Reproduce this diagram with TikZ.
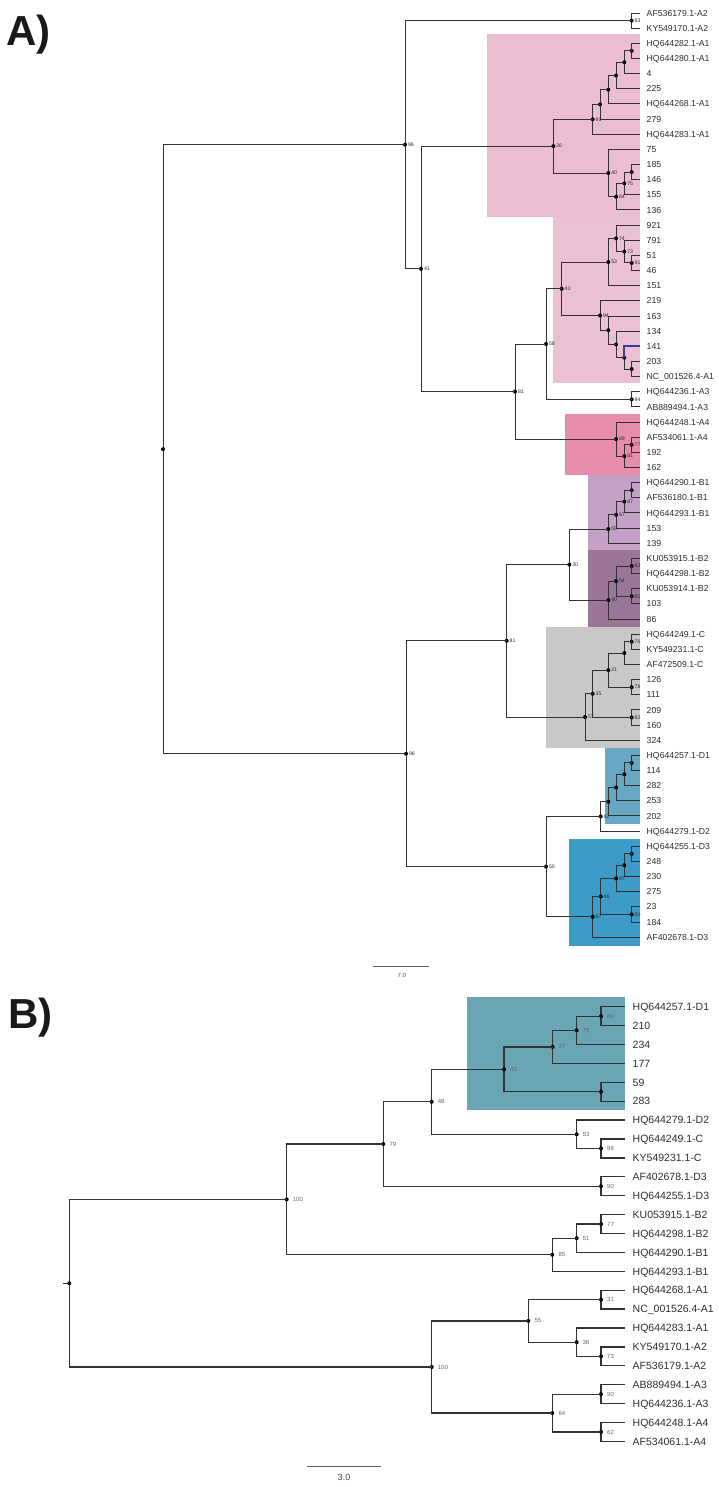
\documentclass[tikz,border=0pt]{standalone}
\usepackage{fontspec}
\setmainfont{Liberation Sans}
\usetikzlibrary{calc}
\definecolor{pinkA}{RGB}{234,189,208}
\definecolor{pinkB}{RGB}{236,192,211}
\definecolor{pinkC}{RGB}{232,140,172}
\definecolor{lavB}{RGB}{196,161,198}
\definecolor{purB}{RGB}{155,117,152}
\definecolor{grayC}{RGB}{200,200,200}
\definecolor{blueD}{RGB}{102,168,196}
\definecolor{blueE}{RGB}{60,155,200}
\definecolor{tealB}{RGB}{106,165,182}
\definecolor{linec}{RGB}{50,50,50}
\definecolor{txtc}{RGB}{45,45,45}
\definecolor{hiblue}{RGB}{60,60,150}
\tikzset{
  bra/.style={draw=linec, line width=0.95pt},
  brb/.style={draw=linec, line width=1.3pt},
  bsa/.style={anchor=west, xshift=2.8pt, inner sep=0pt, font=\fontsize{5.2}{5}\selectfont, text=txtc},
  bsb/.style={anchor=west, xshift=6pt, inner sep=0pt, font=\fontsize{6}{6}\selectfont, text=black!60},
  lfa/.style={anchor=west, inner sep=0pt, text height=6.2pt, text depth=0pt, font=\fontsize{8.7}{9}\selectfont, text=txtc},
  lfb/.style={anchor=west, inner sep=0pt, text height=7.5pt, text depth=0pt, font=\fontsize{10.5}{11}\selectfont, text=txtc},
  bluebr/.style={draw=hiblue, line width=1.7pt},
  panel/.style={anchor=base west, inner sep=0pt, font=\fontsize{42}{42}\selectfont\bfseries, text=black!90}
}
% name, x, childA, childB, label, panel (a/b)
\newcommand\tnode[6]{%
  \coordinate (#1m) at ($(#3)!0.5!(#4)$);
  \coordinate (#1x) at (#2,0);
  \coordinate (#1) at (#1x |- #1m);
  \draw[br#6] (#1) |- (#3);
  \draw[br#6] (#1) |- (#4);
  \fill[black] (#1) circle (2pt);
  \if\relax\detokenize{#5}\relax\else
    \node[bs#6] (#1l) at (#1) {#5};
  \fi}
\newcommand\leafa[3]{\coordinate (#1) at (640,#2); \node[lfa] (#1t) at (646.5,#2) {#3};}
\newcommand\leafb[3]{\coordinate (#1) at (625,#2); \node[lfb] (#1t) at (632.5,#2) {#3};}
\begin{document}
\begin{tikzpicture}[x=1pt,y=-1pt]
\useasboundingbox (0,0) rectangle (719,1487);
% ---------- Panel A ----------
\node[panel] (labA) at (6,46) {A)};
\fill[pinkA] (486.7,34.3) rectangle (640,216.7);
\fill[pinkB] (553.3,216.7) rectangle (640,383.3);
\fill[pinkC] (565,414.3) rectangle (640,475);
\fill[lavB] (588.3,475) rectangle (640,550);
\fill[purB] (588.3,550) rectangle (640,626.7);
\fill[grayC] (546,626.7) rectangle (640,748.3);
\fill[blueD] (605,748.3) rectangle (640,824);
\fill[blueE] (569,838.7) rectangle (640,945.7);

\leafa{LA1}{13.0}{AF536179.1-A2}
\leafa{LA2}{28.15}{KY549170.1-A2}
\leafa{LA3}{43.3}{HQ644282.1-A1}
\leafa{LA4}{58.45}{HQ644280.1-A1}
\leafa{LA5}{73.6}{4}
\leafa{LA6}{88.75}{225}
\leafa{LA7}{103.9}{HQ644268.1-A1}
\leafa{LA8}{119.05}{279}
\leafa{LA9}{134.2}{HQ644283.1-A1}
\leafa{LA10}{149.35}{75}
\leafa{LA11}{164.5}{185}
\leafa{LA12}{179.65}{146}
\leafa{LA13}{194.8}{155}
\leafa{LA14}{209.95}{136}
\leafa{LA15}{225.1}{921}
\leafa{LA16}{240.25}{791}
\leafa{LA17}{255.4}{51}
\leafa{LA18}{270.55}{46}
\leafa{LA19}{285.7}{151}
\leafa{LA20}{300.85}{219}
\leafa{LA21}{316.0}{163}
\leafa{LA22}{331.15}{134}
\leafa{LA23}{346.3}{141}
\leafa{LA24}{361.45}{203}
\leafa{LA25}{376.6}{NC\_001526.4-A1}
\leafa{LA26}{391.75}{HQ644236.1-A3}
\leafa{LA27}{406.9}{AB889494.1-A3}
\leafa{LA28}{422.05}{HQ644248.1-A4}
\leafa{LA29}{437.2}{AF534061.1-A4}
\leafa{LA30}{452.35}{192}
\leafa{LA31}{467.5}{162}
\leafa{LA32}{482.65}{HQ644290.1-B1}
\leafa{LA33}{497.8}{AF536180.1-B1}
\leafa{LA34}{512.95}{HQ644293.1-B1}
\leafa{LA35}{528.1}{153}
\leafa{LA36}{543.25}{139}
\leafa{LA37}{558.4}{KU053915.1-B2}
\leafa{LA38}{573.55}{HQ644298.1-B2}
\leafa{LA39}{588.7}{KU053914.1-B2}
\leafa{LA40}{603.85}{103}
\leafa{LA41}{619.0}{86}
\leafa{LA42}{634.15}{HQ644249.1-C}
\leafa{LA43}{649.3}{KY549231.1-C}
\leafa{LA44}{664.45}{AF472509.1-C}
\leafa{LA45}{679.6}{126}
\leafa{LA46}{694.75}{111}
\leafa{LA47}{709.9}{209}
\leafa{LA48}{725.05}{160}
\leafa{LA49}{740.2}{324}
\leafa{LA50}{755.35}{HQ644257.1-D1}
\leafa{LA51}{770.5}{114}
\leafa{LA52}{785.65}{282}
\leafa{LA53}{800.8}{253}
\leafa{LA54}{815.95}{202}
\leafa{LA55}{831.1}{HQ644279.1-D2}
\leafa{LA56}{846.25}{HQ644255.1-D3}
\leafa{LA57}{861.4}{248}
\leafa{LA58}{876.55}{230}
\leafa{LA59}{891.7}{275}
\leafa{LA60}{906.85}{23}
\leafa{LA61}{922.0}{184}
\leafa{LA62}{937.15}{AF402678.1-D3}

% A1 clade
\tnode{An1}{631.7}{LA3}{LA4}{}{a}
\tnode{An2}{624.3}{An1}{LA5}{}{a}
\tnode{An3}{616}{An2}{LA6}{}{a}
\tnode{An4}{608.3}{An3}{LA7}{}{a}
\tnode{An5}{600}{An4}{LA8}{}{a}
\tnode{An6}{592.7}{An5}{LA9}{91}{a}
\tnode{Am1}{631.7}{LA11}{LA12}{}{a}
\tnode{Am2}{624.3}{Am1}{LA13}{75}{a}
\tnode{Am3}{616}{Am2}{LA14}{64}{a}
\tnode{Am4}{608.3}{LA10}{Am3}{40}{a}
\tnode{An26}{553.3}{An6}{Am4}{26}{a}
% second A1 clade
\tnode{Ap1}{631.7}{LA17}{LA18}{91}{a}
\tnode{Ap2}{624.3}{LA16}{Ap1}{73}{a}
\tnode{Ap3}{616}{LA15}{Ap2}{74}{a}
\tnode{Ap4}{608.3}{Ap3}{LA19}{53}{a}
\tnode{Aq1}{631.7}{LA24}{LA25}{}{a}
\tnode{Aq2}{624.3}{LA23}{Aq1}{}{a}
\draw[bluebr] (Aq2) |- (LA23);
\tnode{Aq3}{616}{LA22}{Aq2}{}{a}
\tnode{Aq4}{608.3}{LA21}{Aq3}{}{a}
\tnode{Aq5}{600}{LA20}{Aq4}{94}{a}
\tnode{An43}{561.7}{Ap4}{Aq5}{43}{a}
\tnode{Ar1}{631.7}{LA26}{LA27}{94}{a}
\tnode{An58}{546}{An43}{Ar1}{58}{a}
\tnode{As1}{631.7}{LA29}{LA30}{77}{a}
\tnode{As2}{624.3}{As1}{LA31}{81}{a}
\tnode{As3}{616}{LA28}{As2}{89}{a}
\tnode{An81}{515}{An58}{As3}{81}{a}
\tnode{An41}{421}{An26}{An81}{41}{a}
\tnode{At1}{631.7}{LA1}{LA2}{93}{a}
\tnode{An96}{405}{At1}{An41}{96}{a}
% B clades
\tnode{Au1}{631.7}{LA32}{LA33}{}{a}
\tnode{Au2}{624.3}{Au1}{LA34}{87}{a}
\tnode{Au3}{616}{Au2}{LA35}{67}{a}
\tnode{Au4}{608.3}{Au3}{LA36}{59}{a}
\tnode{Av1}{631.7}{LA37}{LA38}{83}{a}
\tnode{Av2}{631.7}{LA39}{LA40}{91}{a}
\tnode{Av3}{616}{Av1}{Av2}{54}{a}
\tnode{Av4}{608.3}{Av3}{LA41}{40}{a}
\tnode{An30}{569.3}{Au4}{Av4}{30}{a}
% C clade
\tnode{Aw1}{631.7}{LA42}{LA43}{76}{a}
\tnode{Aw2}{624.3}{Aw1}{LA44}{}{a}
\tnode{Aw3}{631.7}{LA45}{LA46}{78}{a}
\tnode{Aw4}{608.3}{Aw2}{Aw3}{21}{a}
\tnode{Aw5}{631.7}{LA47}{LA48}{82}{a}
\tnode{Aw6}{592.7}{Aw4}{Aw5}{35}{a}
\tnode{Aw7}{585}{Aw6}{LA49}{57}{a}
\tnode{An81b}{506.7}{An30}{Aw7}{81}{a}
% D clades
\tnode{Ax1}{631.7}{LA50}{LA51}{}{a}
\tnode{Ax2}{624.3}{Ax1}{LA52}{}{a}
\tnode{Ax3}{616}{Ax2}{LA53}{}{a}
\tnode{Ax4}{608.3}{Ax3}{LA54}{}{a}
\tnode{Ax5}{600.7}{Ax4}{LA55}{62}{a}
\tnode{Ay1}{631.7}{LA56}{LA57}{}{a}
\tnode{Ay2}{624.3}{Ay1}{LA58}{}{a}
\tnode{Ay3}{616}{Ay2}{LA59}{97}{a}
\tnode{Ay5}{631.7}{LA60}{LA61}{50}{a}
\tnode{Ay4}{600.7}{Ay3}{Ay5}{46}{a}
\tnode{Ay6}{592.7}{Ay4}{LA62}{97}{a}
\tnode{An50}{546}{Ax5}{Ay6}{50}{a}
\tnode{An96b}{406}{An81b}{An50}{96}{a}
\tnode{ARoot}{163}{An96}{An96b}{}{a}
% scale bar A
\coordinate (sa1) at (373.3,966.7);
\coordinate (sa2) at (429.3,966.7);
\draw[draw=black!60, line width=0.9pt] (sa1) -- (sa2);
\node[font=\fontsize{6}{6}\selectfont, text=black!70, inner sep=0pt] (sat) at (401.7,975.5) {7.0};

% ---------- Panel B ----------
\node[panel] (labB) at (8,1028) {B)};
\fill[tealB] (466.7,997) rectangle (625,1110);
\leafb{LB1}{1006.7}{HQ644257.1-D1}
\leafb{LB2}{1025.6}{210}
\leafb{LB3}{1044.5}{234}
\leafb{LB4}{1063.4}{177}
\leafb{LB5}{1082.3}{59}
\leafb{LB6}{1101.2}{283}
\leafb{LB7}{1120.1}{HQ644279.1-D2}
\leafb{LB8}{1139.0}{HQ644249.1-C}
\leafb{LB9}{1157.9}{KY549231.1-C}
\leafb{LB10}{1176.8}{AF402678.1-D3}
\leafb{LB11}{1195.7}{HQ644255.1-D3}
\leafb{LB12}{1214.6}{KU053915.1-B2}
\leafb{LB13}{1233.5}{HQ644298.1-B2}
\leafb{LB14}{1252.4}{HQ644290.1-B1}
\leafb{LB15}{1271.3}{HQ644293.1-B1}
\leafb{LB16}{1290.2}{HQ644268.1-A1}
\leafb{LB17}{1309.1}{NC\_001526.4-A1}
\leafb{LB18}{1328.0}{HQ644283.1-A1}
\leafb{LB19}{1346.9}{KY549170.1-A2}
\leafb{LB20}{1365.8}{AF536179.1-A2}
\leafb{LB21}{1384.7}{AB889494.1-A3}
\leafb{LB22}{1403.6}{HQ644236.1-A3}
\leafb{LB23}{1422.5}{HQ644248.1-A4}
\leafb{LB24}{1441.4}{AF534061.1-A4}

\tnode{Bc1}{601}{LB1}{LB2}{60}{b}
\tnode{Bc2}{576.7}{Bc1}{LB3}{75}{b}
\tnode{Bc3}{552.7}{Bc2}{LB4}{27}{b}
\tnode{Bc4}{601}{LB5}{LB6}{}{b}
\tnode{Bc5}{504}{Bc3}{Bc4}{43}{b}
\tnode{Bc6}{601}{LB8}{LB9}{88}{b}
\tnode{Bc7}{576.7}{LB7}{Bc6}{53}{b}
\tnode{Bc8}{431.7}{Bc5}{Bc7}{48}{b}
\tnode{Bc9}{601}{LB10}{LB11}{90}{b}
\tnode{Bc10}{383.3}{Bc8}{Bc9}{79}{b}
\tnode{Bd1}{601}{LB12}{LB13}{77}{b}
\tnode{Bd2}{576.7}{Bd1}{LB14}{51}{b}
\tnode{Bd3}{552.3}{Bd2}{LB15}{85}{b}
\tnode{Bc11}{286.7}{Bc10}{Bd3}{100}{b}
\tnode{Be1}{601}{LB16}{LB17}{31}{b}
\tnode{Be2}{601}{LB19}{LB20}{73}{b}
\tnode{Be3}{576.7}{LB18}{Be2}{36}{b}
\tnode{Be4}{528.3}{Be1}{Be3}{55}{b}
\tnode{Bf1}{601}{LB21}{LB22}{90}{b}
\tnode{Bf2}{601}{LB23}{LB24}{62}{b}
\tnode{Bf3}{552.3}{Bf1}{Bf2}{64}{b}
\tnode{Bg1}{431.7}{Be4}{Bf3}{100}{b}
\tnode{BRoot}{69.3}{Bc11}{Bg1}{}{b}
\coordinate (bstub) at ($(BRoot)+(-6,0)$);
\draw[brb] (BRoot) -- (bstub);
% scale bar B
\coordinate (sb1) at (307.3,1466.7);
\coordinate (sb2) at (381,1466.7);
\draw[draw=black!60, line width=1.1pt] (sb1) -- (sb2);
\node[font=\fontsize{9}{9}\selectfont, text=black!75, inner sep=0pt] (sbt) at (344,1477.8) {3.0};
\end{tikzpicture}
\end{document}
